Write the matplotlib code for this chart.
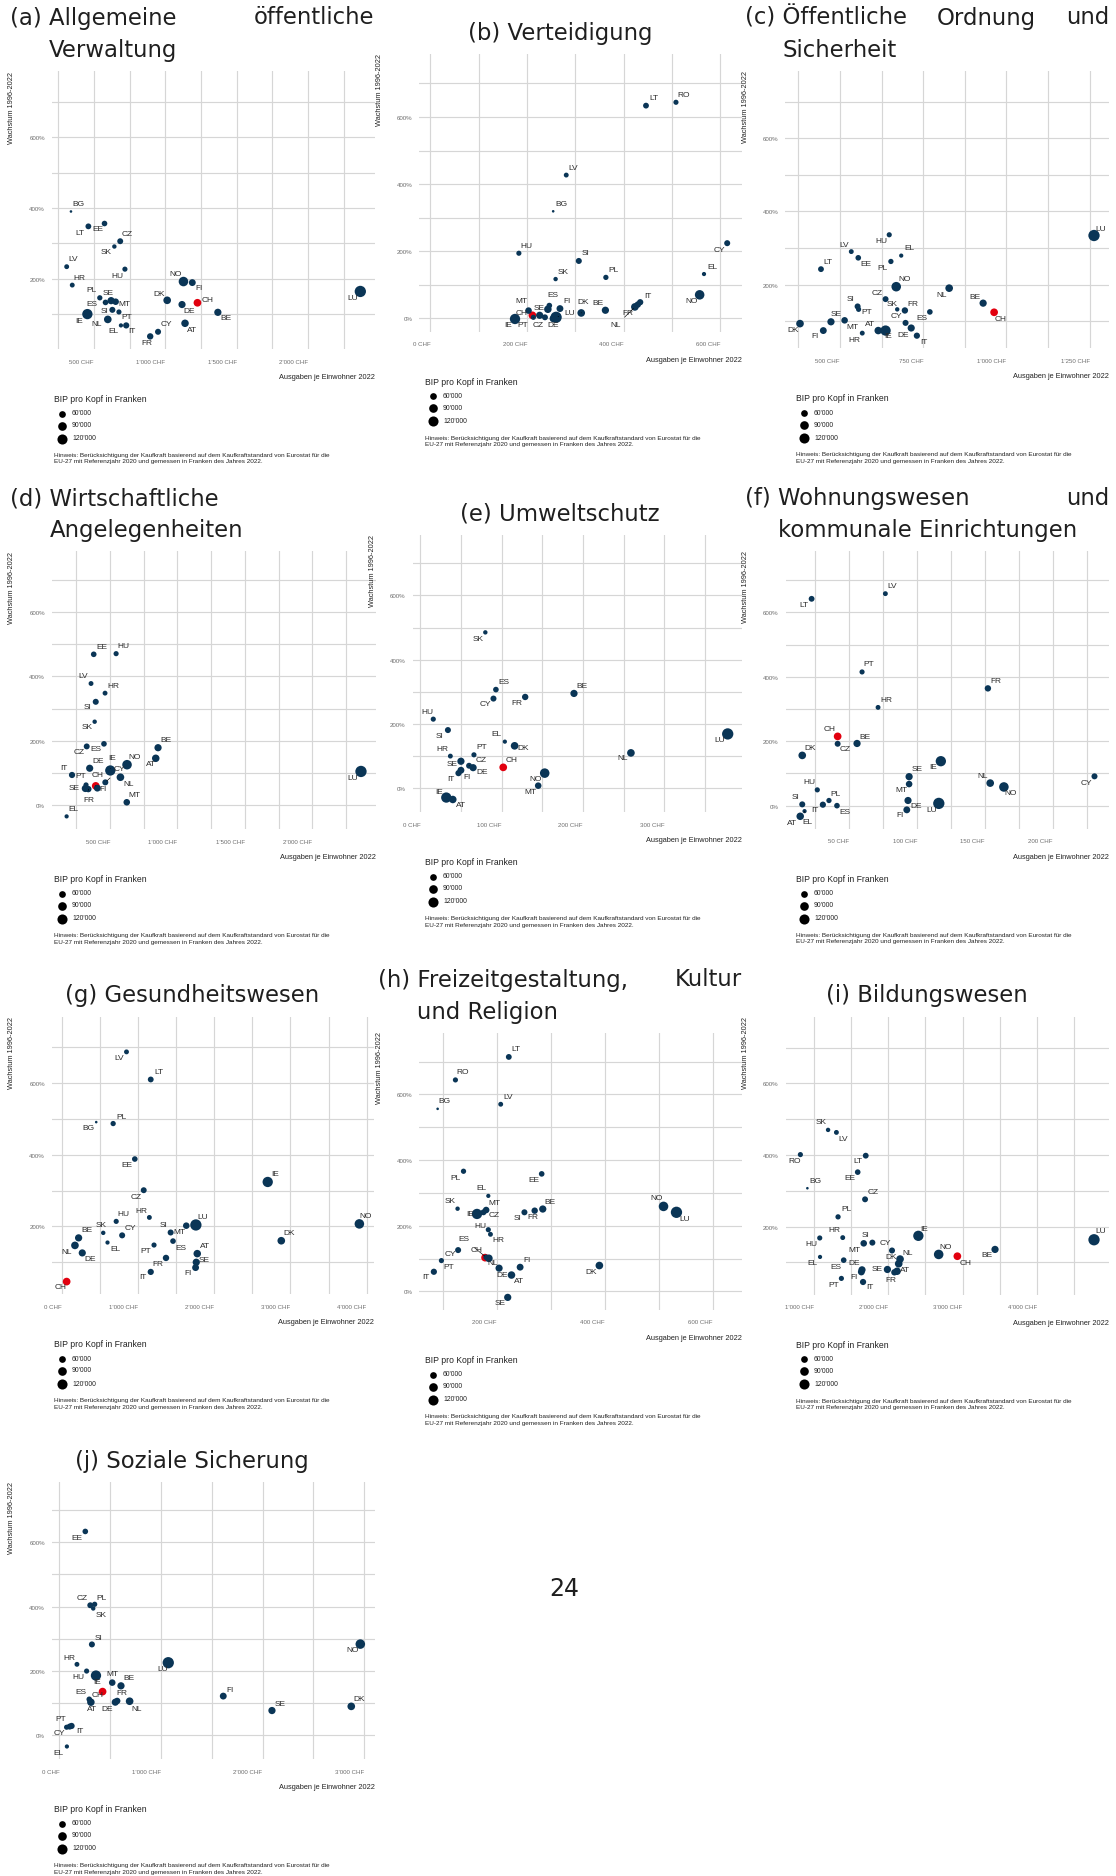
import matplotlib
matplotlib.use("Agg")
import matplotlib.pyplot as plt
from matplotlib.lines import Line2D
import numpy as np

# ---------------------------------------------------------------------------
# Data
# ---------------------------------------------------------------------------
# GDP per head (CHF, purchasing-power adjusted) used for the bubble size
gdp_codes = ["AT", "BE", "BG", "CH", "CY", "CZ", "DE", "DK", "EE", "EL", "ES",
             "FI", "FR", "HR", "HU", "IE", "IT", "LT", "LU", "LV", "MT", "NL",
             "NO", "PL", "PT", "RO", "SE", "SI", "SK"]
gdp_values = [71000, 67000, 34000, 74000, 52000, 51000, 66000, 73000, 48000,
              38000, 48000, 62000, 56000, 42000, 44000, 125000, 54000, 50000,
              150000, 42000, 58000, 73000, 108000, 45000, 44000, 44000, 67000,
              52000, 39000]
legend_breaks = [60000, 90000, 120000]

# (a) Allgemeine öffentliche Verwaltung
codes_a = ["BG", "LT", "EE", "CZ", "SK", "LV", "HU", "HR", "NO", "FI", "PL", "ES",
           "SE", "MT", "SI", "PT", "IE", "NL", "EL", "IT", "FR", "CY", "DK", "DE",
           "AT", "CH", "BE", "LU"]
spend_a = [339, 461, 574, 684, 643, 309, 717, 348, 1127, 1189, 541, 581, 620, 652,
           629, 675, 454, 597, 689, 726, 894, 949, 1013, 1117, 1138, 1225, 1368, 2366]
growth_a = [390, 348, 356, 306, 291, 234, 227, 182, 192, 189, 146, 133, 138, 135,
            112, 106, 100, 85, 68, 68, 37, 50, 139, 127, 74, 132, 105, 164]

# (b) Verteidigung
codes_b = ["LT", "RO", "LV", "BG", "HU", "SI", "SK", "PL", "CY", "EL", "NO", "IT",
           "FR", "NL", "BE", "DK", "FI", "ES", "AT", "MT", "SE", "CH", "IE", "PT",
           "CZ", "DE", "LU"]
spend_b = [446, 508, 281, 254, 183, 307, 259, 363, 614, 566, 557, 434, 429, 423,
           362, 312, 268, 246, 243, 203, 226, 211, 175, 213, 237, 254, 260]
growth_b = [634, 644, 427, 319, 194, 171, 117, 122, 224, 132, 70, 48, 41, 34, 24,
            16, 29, 38, 27, 23, 9, 9, -2, 3, 3, -1, 3]

# (c) Öffentliche Ordnung und Sicherheit
codes_c = ["LU", "HU", "LV", "EL", "EE", "PL", "LT", "NO", "NL", "CZ", "BE", "CH",
           "SI", "PT", "SK", "FR", "ES", "CY", "SE", "MT", "DK", "FI", "HR", "AT",
           "IE", "DE", "IT"]
spend_c = [1263, 648, 534, 684, 555, 653, 443, 669, 828, 637, 930, 963, 553, 556,
           672, 695, 770, 697, 473, 514, 380, 450, 567, 615, 637, 714, 731]
growth_c = [334, 336, 290, 279, 273, 263, 242, 194, 190, 160, 149, 124, 140, 132,
            132, 129, 125, 95, 98, 102, 93, 74, 67, 74, 74, 81, 60]

# (d) Wirtschaftliche Angelegenheiten
codes_d = ["EE", "HU", "LV", "HR", "SI", "SK", "BE", "ES", "CZ", "AT", "NO", "IE",
           "DE", "IT", "NL", "MT", "EL", "LU", "PT", "SE", "FR", "CH", "FI", "CY"]
spend_d = [379, 545, 359, 463, 394, 386, 856, 455, 327, 839, 626, 502, 349, 218,
           577, 624, 178, 2361, 322, 317, 339, 394, 406, 465]
growth_d = [469, 471, 378, 348, 321, 259, 178, 190, 182, 145, 125, 107, 114, 93,
            86, 8, -36, 104, 62, 51, 49, 59, 52, 70]

# (e) Umweltschutz
codes_e = ["SK", "ES", "CY", "FR", "BE", "HU", "SI", "EL", "DK", "LU", "NL", "HR",
           "PT", "CH", "SE", "CZ", "DE", "FI", "IT", "NO", "MT", "IE", "AT"]
spend_e = [80, 93, 90, 129, 189, 16, 34, 104, 116, 378, 259, 37, 66, 102, 50, 60,
           65, 50, 47, 153, 145, 32, 40]
growth_e = [485, 307, 279, 284, 295, 215, 181, 145, 132, 169, 110, 100, 104, 65,
            84, 70, 64, 56, 47, 47, 8, -29, -35]

# (f) Wohnungswesen und kommunale Einrichtungen
codes_f = ["LV", "LT", "PT", "FR", "HR", "CH", "CZ", "BE", "DK", "IE", "SE", "MT",
           "NL", "NO", "CY", "HU", "PL", "SI", "IT", "ES", "DE", "LU", "FI", "EL", "AT"]
spend_f = [76.6, 22.2, 59.4, 152.2, 71.2, 41.4, 41.4, 55.7, 15.3, 117.5, 94.1, 94.1,
           153.9, 164.0, 230.8, 26.4, 35.0, 15.3, 30.5, 40.9, 93.3, 116.0, 92.4,
           17.0, 13.8]
growth_f = [658, 642, 415, 364, 305, 215, 192, 193, 156, 138, 90, 67, 70, 58, 91,
            49, 16, 4, 3, 0, 16, 7, -13, -17, -33]

# (g) Gesundheitswesen
codes_g = ["LV", "LT", "PL", "BG", "EE", "IE", "CZ", "HU", "HR", "LU", "SI", "MT",
           "CY", "SK", "EL", "BE", "NL", "DE", "CH", "PT", "ES", "FR", "IT", "AT",
           "SE", "FI", "DK", "NO"]
spend_g = [850, 1168, 675, 453, 959, 2702, 1076, 715, 1150, 1760, 1429, 1634, 793,
           545, 601, 222, 174, 270, 65, 1211, 1460, 1368, 1168, 1778, 1765, 1756,
           2880, 3904]
growth_g = [687, 610, 487, 491, 388, 324, 301, 214, 225, 204, 183, 202, 175, 182,
            155, 168, 147, 126, 46, 148, 159, 112, 73, 124, 100, 85, 160, 207]

# (h) Freizeitgestaltung, Kultur und Religion
codes_h = ["LT", "RO", "BG", "LV", "PL", "EE", "EL", "MT", "SK", "BE", "IE", "CZ",
           "SI", "FR", "HU", "HR", "ES", "CH", "NL", "CY", "PT", "IT", "DE", "FI",
           "AT", "SE", "DK", "NO", "LU"]
spend_h = [222, 123, 90, 207, 138, 283, 184, 180, 127, 285, 163, 175, 251, 270,
           184, 188, 180, 178, 185, 128, 97, 83, 204, 243, 227, 220, 390, 509, 533]
growth_h = [714, 644, 556, 570, 366, 358, 291, 248, 252, 251, 236, 241, 241, 246,
            188, 174, 104, 103, 101, 126, 94, 60, 71, 74, 50, -18, 79, 259, 241]

# (i) Bildungswesen
codes_i = ["SK", "LV", "RO", "LT", "EE", "BG", "CZ", "PL", "IE", "LU", "HR", "HU",
           "SI", "MT", "CY", "NL", "DK", "NO", "CH", "BE", "EL", "ES", "DE", "FI",
           "SE", "AT", "FR", "PT", "IT"]
spend_i = [1193, 1305, 821, 1699, 1591, 915, 1690, 1327, 2406, 4766, 1390, 1081,
           1788, 1672, 2052, 2160, 2142, 2679, 2930, 3436, 1085, 1403, 1649, 1640,
           1990, 2120, 2084, 1372, 1663]
growth_i = [470, 463, 401, 398, 352, 307, 276, 227, 174, 163, 169, 168, 155, 153,
            133, 109, 96, 122, 117, 136, 115, 106, 79, 73, 80, 75, 72, 55, 45]

# (j) Soziale Sicherung
codes_j = ["EE", "CZ", "PL", "SK", "SI", "HR", "HU", "IE", "LU", "NO", "MT", "BE",
           "CH", "ES", "AT", "FR", "DE", "NL", "FI", "SE", "DK", "PT", "CY", "IT", "EL"]
spend_j = [256, 305, 348, 334, 321, 174, 269, 361, 1072, 2961, 521, 607, 426, 295,
           311, 570, 551, 692, 1613, 2092, 2872, 72, 102, 121, 75]
growth_j = [634, 404, 407, 394, 282, 220, 199, 185, 225, 283, 163, 153, 135, 111,
            102, 106, 102, 105, 121, 76, 89, 24, 26, 28, -36]

# ---------------------------------------------------------------------------
# Layout (pixels, origin top-left)
# ---------------------------------------------------------------------------
W, H, DPI = 1116, 1876, 100
PANEL_H = 277.5
COL_X0 = [0, 371, 742]
TITLE_SPAN = [(10, 374), (378, 742), (745, 1109)]
ROW_OFF = [0, 480.5, 962, 1427.5]

# label offsets (dx, dy) in px from the point, dy positive downwards
lab_a = {"BG": (7, -7), "LT": (-8, 7), "EE": (-7, 6), "CZ": (7, -7), "SK": (-8, 6),
         "LV": (7, -7), "HU": (-8, 7), "HR": (7, -7), "NO": (-8, -7), "FI": (7, 6),
         "PL": (-8, -7), "ES": (-14, 2), "SE": (-3, -7), "MT": (9, 3), "SI": (-8, 2),
         "PT": (8, 6), "IE": (-8, 7), "NL": (-11, 5), "EL": (-7, 6), "IT": (6, 6),
         "FR": (-3, 7), "CY": (8, -7), "DK": (-8, -6), "DE": (7, 7), "AT": (7, 7),
         "CH": (10, -2), "BE": (8, 6), "LU": (-8, 7)}
lead_a = {"ES"}
lab_b = {"LT": (8, -7), "RO": (8, -7), "LV": (7, -7), "BG": (8, -7), "HU": (8, -7),
         "SI": (7, -7), "SK": (8, -7), "PL": (8, -7), "CY": (-8, 7), "EL": (8, -7),
         "NO": (-8, 7), "IT": (8, -6), "FR": (-10, 9), "NL": (-19, 19), "BE": (-7, -7),
         "DK": (2, -10), "FI": (7, -7), "ES": (4, -10), "MT": (-7, -9), "SE": (-1, -7),
         "CH": (-11, -2), "IE": (-7, 7), "PT": (-11, 8), "CZ": (-7, 8), "LU": (14, -4),
         "DE": (0, 7)}
lead_b = {"NL", "DK", "PT", "LU"}
lab_c = {"LU": (7, -6), "HU": (-8, 7), "LV": (-7, -6), "EL": (8, -7), "EE": (8, 7),
         "PL": (-8, 7), "LT": (7, -7), "NO": (8, -7), "NL": (-8, 7), "CZ": (-8, -6),
         "BE": (-8, -6), "CH": (7, 7), "SI": (-7, -7), "PT": (8, 3), "SK": (-5, -5),
         "FR": (8, -6), "ES": (-8, 7), "CY": (-9, -6), "SE": (5, -7), "MT": (8, 7),
         "DK": (-7, 7), "FI": (-8, 6), "HR": (-8, 7), "AT": (-8, -6), "IE": (3, 6),
         "DE": (-8, 7), "IT": (7, 7)}
lead_c = set()
lab_d = {"EE": (8, -7), "HU": (7, -7), "LV": (-8, -7), "HR": (8, -7), "SI": (-8, 6),
         "SK": (-8, 6), "BE": (8, -7), "ES": (-8, 6), "CZ": (-8, 6), "AT": (-5, 6),
         "NO": (8, -7), "IE": (2, -12), "DE": (8, -7), "IT": (-8, -6), "NL": (8, 7),
         "MT": (8, -7), "EL": (7, -7), "LU": (-8, 7), "PT": (-5, -8), "SE": (-11, 0),
         "FR": (1, 11), "CH": (2, -10), "FI": (6, 1), "CY": (14, -13)}
lead_d = {"IE", "FR", "CH", "CY"}
lab_e = {"SK": (-7, 7), "ES": (8, -7), "CY": (-8, 6), "FR": (-8, 7), "BE": (8, -7),
         "HU": (-6, -7), "SI": (-8, 6), "EL": (-8, -7), "DK": (9, 3), "LU": (-8, 7),
         "NL": (-8, 6), "HR": (-8, -7), "PT": (8, -7), "CH": (8, -7), "SE": (-9, 3),
         "CZ": (12, -5), "DE": (9, 5), "FI": (6, 7), "IT": (-8, 6), "NO": (-9, 6),
         "MT": (-8, 7), "IE": (-7, -5), "AT": (8, 6)}
lead_e = {"CZ"}
lab_f = {"LV": (7, -7), "LT": (-8, 7), "PT": (7, -7), "FR": (8, -7), "HR": (8, -7),
         "CH": (-8, -7), "CZ": (8, 6), "BE": (8, -6), "DK": (8, -7), "IE": (-8, 6),
         "SE": (8, -7), "MT": (-8, 6), "NL": (-8, -7), "NO": (7, 7), "CY": (-8, 7),
         "HU": (-8, -7), "PL": (7, -6), "SI": (-7, -7), "IT": (-8, 6), "ES": (8, 7),
         "DE": (8, 6), "LU": (-7, 7), "FI": (-7, 6), "EL": (3, 11), "AT": (-8, 7)}
lead_f = {"EL"}
lab_g = {"LV": (-7, 7), "LT": (8, -7), "PL": (8, -6), "BG": (-8, 6), "EE": (-8, 6),
         "IE": (7, -7), "CZ": (-8, 7), "HU": (7, -7), "HR": (-8, -6), "LU": (7, -7),
         "SI": (-7, -7), "MT": (-7, 7), "CY": (8, -7), "SK": (-2, -7), "EL": (8, 7),
         "BE": (8, -7), "NL": (-8, 7), "DE": (8, 7), "CH": (-6, 6), "PT": (-8, 6),
         "ES": (8, 7), "FR": (-8, 7), "IT": (-8, 6), "AT": (8, -7), "SE": (8, -2),
         "FI": (-8, 6), "DK": (8, -7), "NO": (6, -7)}
lead_g = set()
lab_h = {"LT": (7, -7), "RO": (7, -7), "BG": (7, -7), "LV": (7, -7), "PL": (-8, 7),
         "EE": (-8, 7), "EL": (-7, -7), "MT": (8, -7), "SK": (-7, -7), "BE": (7, -7),
         "IE": (-7, 1), "CZ": (11, 3), "SI": (-7, 6), "FR": (-2, 7), "HU": (-8, -3),
         "HR": (8, 6), "ES": (-22, -18), "CH": (-8, -7), "NL": (4, 5), "CY": (-8, 4),
         "PT": (7, 7), "IT": (-8, 6), "DE": (3, 7), "FI": (7, -7), "AT": (8, 6),
         "SE": (-8, 6), "DK": (-8, 7), "NO": (-7, -8), "LU": (8, 7)}
lead_h = {"ES"}
lab_i = {"SK": (-7, -7), "LV": (7, 7), "RO": (-6, 7), "LT": (-8, 6), "EE": (-8, 6),
         "BG": (8, -7), "CZ": (8, -7), "PL": (8, -7), "IE": (6, -6), "LU": (7, -8),
         "HR": (-8, -7), "HU": (-8, 7), "SI": (-7, -7), "MT": (-9, 7), "CY": (-7, -7),
         "NL": (8, -6), "DK": (-8, -6), "NO": (7, -7), "CH": (8, 7), "BE": (-8, 6),
         "EL": (-8, 7), "ES": (-8, 7), "DE": (-8, -6), "FI": (-7, 6), "SE": (-10, 0),
         "AT": (8, -1), "FR": (-4, 8), "PT": (-8, 7), "IT": (7, 6)}
lead_i = set()
lab_j = {"EE": (-8, 7), "CZ": (-8, -7), "PL": (7, -6), "SK": (8, 7), "SI": (7, -6),
         "HR": (-8, -6), "HU": (-8, 6), "IE": (1, 7), "LU": (-6, 7), "NO": (-8, 6),
         "MT": (0, -8), "BE": (8, -7), "CH": (-5, 4), "ES": (-8, -7), "AT": (1, 7),
         "FR": (5, -7), "DE": (-8, 7), "NL": (7, 8), "FI": (7, -6), "SE": (8, -6),
         "DK": (8, -7), "PT": (-6, -8), "CY": (-10, 7), "IT": (8, 6), "EL": (-8, 7)}
lead_j = set()

panels = [
    dict(label="(a)", title=("Allgemeine öffentliche", "Verwaltung"), col=0, row=0,
         box=(52.0, 71.5, 323.0), xlim=None, xstep=500,
         codes=codes_a, x=spend_a, y=growth_a, lab=lab_a, lead=lead_a),
    dict(label="(b)", title=("Verteidigung", None), col=1, row=0,
         box=(419.3, 54.1, 322.4), xlim=(-23, 644), xstep=200,
         codes=codes_b, x=spend_b, y=growth_b, lab=lab_b, lead=lead_b),
    dict(label="(c)", title=("Öffentliche Ordnung und", "Sicherheit"), col=2, row=0,
         box=(785.3, 70.8, 323.4), xlim=None, xstep=250,
         codes=codes_c, x=spend_c, y=growth_c, lab=lab_c, lead=lead_c),
    dict(label="(d)", title=("Wirtschaftliche", "Angelegenheiten"), col=0, row=1,
         box=(51.9, 551.5, 323.8), xlim=None, xstep=500,
         codes=codes_d, x=spend_d, y=growth_d, lab=lab_d, lead=lead_d),
    dict(label="(e)", title=("Umweltschutz", None), col=1, row=1,
         box=(412.7, 534.6, 329.0), xlim=(-9.3, 395.2), xstep=100,
         codes=codes_e, x=spend_e, y=growth_e, lab=lab_e, lead=lead_e),
    dict(label="(f)", title=("Wohnungswesen und", "kommunale Einrichtungen"), col=2, row=1,
         box=(785.5, 551.4, 323.7), xlim=None, xstep=50,
         codes=codes_f, x=spend_f, y=growth_f, lab=lab_f, lead=lead_f),
    dict(label="(g)", title=("Gesundheitswesen", None), col=0, row=2,
         box=(52.0, 1016.7, 322.0), xlim=None, xstep=1000,
         codes=codes_g, x=spend_g, y=growth_g, lab=lab_g, lead=lead_g),
    dict(label="(h)", title=("Freizeitgestaltung, Kultur", "und Religion"), col=1, row=2,
         box=(419.3, 1032.5, 322.4), xlim=(56, 654), xstep=200,
         codes=codes_h, x=spend_h, y=growth_h, lab=lab_h, lead=lead_h),
    dict(label="(i)", title=("Bildungswesen", None), col=2, row=2,
         box=(785.7, 1017.1, 323.0), xlim=None, xstep=1000,
         codes=codes_i, x=spend_i, y=growth_i, lab=lab_i, lead=lead_i),
    dict(label="(j)", title=("Soziale Sicherung", None), col=0, row=3,
         box=(51.9, 1481.6, 323.1), xlim=None, xstep=1000,
         codes=codes_j, x=spend_j, y=growth_j, lab=lab_j, lead=lead_j),
]

# ---------------------------------------------------------------------------
# Styling
# ---------------------------------------------------------------------------
SANS = ["Liberation Sans", "DejaVu Sans"]
TITLE_FONT = ["DejaVu Sans"]
POINT_BLUE = "#0a3556"
CH_RED = "#e2000f"
GRID = "#d6d6d6"
TEXT = "#2b2b2b"
TICK = "#6e6e6e"

FS_TICK = 4.4
FS_AXIS = 5.3
FS_LABEL = 6.0
FS_LEG_TITLE = 6.2
FS_LEG = 4.9
FS_NOTE = 4.6

plt.rcParams["font.family"] = SANS

gdp = dict(zip(gdp_codes, gdp_values))
gmin, gmax = min(gdp_values), max(gdp_values)


def diameter_pt(v, dmin=2.6, dmax=11.3):
    frac = np.sqrt(np.clip((v - gmin) / (gmax - gmin), 0, 1))
    return (dmin + (dmax - dmin) * frac) * 72.0 / DPI


def fx(x):
    return x / W


def fy(y):
    return 1.0 - y / H


def chf(v):
    return f"{int(round(v)):,}".replace(",", "'") + " CHF"


fig = plt.figure(figsize=(W / DPI, H / DPI), dpi=DPI)
fig.patch.set_facecolor("white")
renderer = fig.canvas.get_renderer()


def text_width(s, **kw):
    t = fig.text(0, 0, s, **kw)
    w = t.get_window_extent(renderer).width
    t.remove()
    return w


TITLE_KW = dict(family=TITLE_FONT, fontsize=16.4, color="#1f1f1f")


def draw_title(p):
    x0, x1 = TITLE_SPAN[p["col"]]
    off = ROW_OFF[p["row"]]
    line1, line2 = p["title"]
    if line2 is None:
        fig.text(fx((x0 + x1) / 2), fy(off + 33.5), f"{p['label']} {line1}",
                 ha="center", va="center", **TITLE_KW)
        return
    words = line1.split()
    chunks = [f"{p['label']} {words[0]}"] + words[1:]
    widths = [text_width(c, **TITLE_KW) for c in chunks]
    if len(chunks) > 1:
        gap = (x1 - x0 - sum(widths)) / (len(chunks) - 1)
    else:
        gap = 0
    xc = x0
    for c, wd in zip(chunks, widths):
        fig.text(fx(xc), fy(off + 18), c, ha="left", va="center", **TITLE_KW)
        xc += wd + gap
    indent = text_width(p["label"] + " x", **TITLE_KW) - text_width("x", **TITLE_KW)
    fig.text(fx(x0 + indent), fy(off + 50.5), line2, ha="left", va="center", **TITLE_KW)


def draw_panel(p):
    L, T, Wd = p["box"]
    ax = fig.add_axes([fx(L), fy(T + PANEL_H), Wd / W, PANEL_H / H])
    ax.set_facecolor("white")
    for s in ax.spines.values():
        s.set_visible(False)
    ax.set_xticks([])
    ax.set_yticks([])

    xs = np.asarray(p["x"], float)
    ys = np.asarray(p["y"], float)
    if p["xlim"] is None:
        xr = xs.max() - xs.min()
        xlim = (xs.min() - 0.05 * xr, xs.max() + 0.05 * xr)
    else:
        xlim = p["xlim"]
    yr = 750 - ys.min()
    ylim = (ys.min() - 0.05 * yr, 750 + 0.05 * yr)
    ax.set_xlim(*xlim)
    ax.set_ylim(*ylim)

    # grid: major with labels, minor in between
    step = p["xstep"]
    half = step / 2
    for gx in np.arange(np.ceil(xlim[0] / half) * half, xlim[1], half):
        ax.axvline(gx, color=GRID, lw=0.85, zorder=0)
        if abs(gx / step - round(gx / step)) < 1e-9:
            ax.annotate(chf(gx), xy=(gx, 0), xycoords=("data", "axes fraction"),
                        xytext=(0, -13), textcoords="offset pixels", ha="right",
                        va="center", fontsize=FS_TICK, color=TICK,
                        annotation_clip=False)
    for gy in np.arange(np.ceil(ylim[0] / 100) * 100, ylim[1], 100):
        ax.axhline(gy, color=GRID, lw=0.85, zorder=0)
        if int(gy) % 200 == 0:
            ax.annotate(f"{int(gy)}%", xy=(0, gy), xycoords=("axes fraction", "data"),
                        xytext=(-7, -1.5), textcoords="offset pixels", ha="right",
                        va="center", fontsize=FS_TICK, color=TICK,
                        annotation_clip=False)

    # bubbles, drawn in alphabetical order of the country code
    order = sorted(range(len(p["codes"])), key=lambda i: p["codes"][i])
    cs = [p["codes"][i] for i in order]
    sizes = [diameter_pt(gdp[c]) ** 2 for c in cs]
    colors = [CH_RED if c == "CH" else POINT_BLUE for c in cs]
    ax.scatter(xs[order], ys[order], s=sizes, c=colors, linewidths=0, zorder=3,
               clip_on=False)

    # country labels
    for c, xv, yv in zip(p["codes"], xs, ys):
        dx, dy = p["lab"].get(c, (None, None))
        if dx is None:
            continue
        kw = {}
        if c in p["lead"]:
            kw["arrowprops"] = dict(arrowstyle="-", lw=0.45, color="black",
                                    shrinkA=2.5, shrinkB=1.5)
        ax.annotate(c, xy=(xv, yv), xytext=(dx, -dy), textcoords="offset pixels",
                    ha="center", va="center", fontsize=FS_LABEL, color=TEXT,
                    zorder=4, annotation_clip=False, **kw)

    # axis titles
    ax.annotate("Ausgaben je Einwohner 2022", xy=(1, 0), xycoords="axes fraction",
                xytext=(0, -28.5), textcoords="offset pixels", ha="right", va="center",
                fontsize=FS_AXIS, color="#222222", annotation_clip=False)
    ax.annotate("Wachstum 1996-2022", xy=(0, 1), xycoords="axes fraction",
                xytext=(-40, 0), textcoords="offset pixels", ha="center", va="top",
                rotation=90, fontsize=FS_AXIS, color="#222222", annotation_clip=False)

    # size legend and note
    B = T + PANEL_H
    lx = COL_X0[p["col"]] + 54
    fig.text(fx(lx), fy(B + 50.5), "BIP pro Kopf in Franken", ha="left", va="center",
             fontsize=FS_LEG_TITLE, color="#222222")
    for k, v in enumerate(legend_breaks):
        yy = B + [64.8, 76.8, 89.8][k]
        fig.add_artist(Line2D([fx(lx + 7.5)], [fy(yy)], marker="o", linestyle="none",
                              markersize=diameter_pt(v), markerfacecolor="black",
                              markeredgewidth=0, transform=fig.transFigure))
        fig.text(fx(lx + 18), fy(yy), f"{v:,}".replace(",", "'"), ha="left",
                 va="center", fontsize=FS_LEG, color="#222222")
    fig.text(fx(lx), fy(B + 106.5), "Hinweis: Berücksichtigung der Kaufkraft basierend "
             "auf dem Kaufkraftstandard von Eurostat für die", ha="left", va="center",
             fontsize=FS_NOTE, color="#222222")
    fig.text(fx(lx), fy(B + 113), "EU-27 mit Referenzjahr 2020 und gemessen in "
             "Franken des Jahres 2022.", ha="left", va="center", fontsize=FS_NOTE,
             color="#222222")


for p in panels:
    draw_title(p)
    draw_panel(p)

fig.text(fx(564.6), fy(1588.5), "24", ha="center", va="center",
         family=TITLE_FONT, fontsize=17, color="#1f1f1f")

fig.savefig("out.png", dpi=DPI, facecolor="white")
